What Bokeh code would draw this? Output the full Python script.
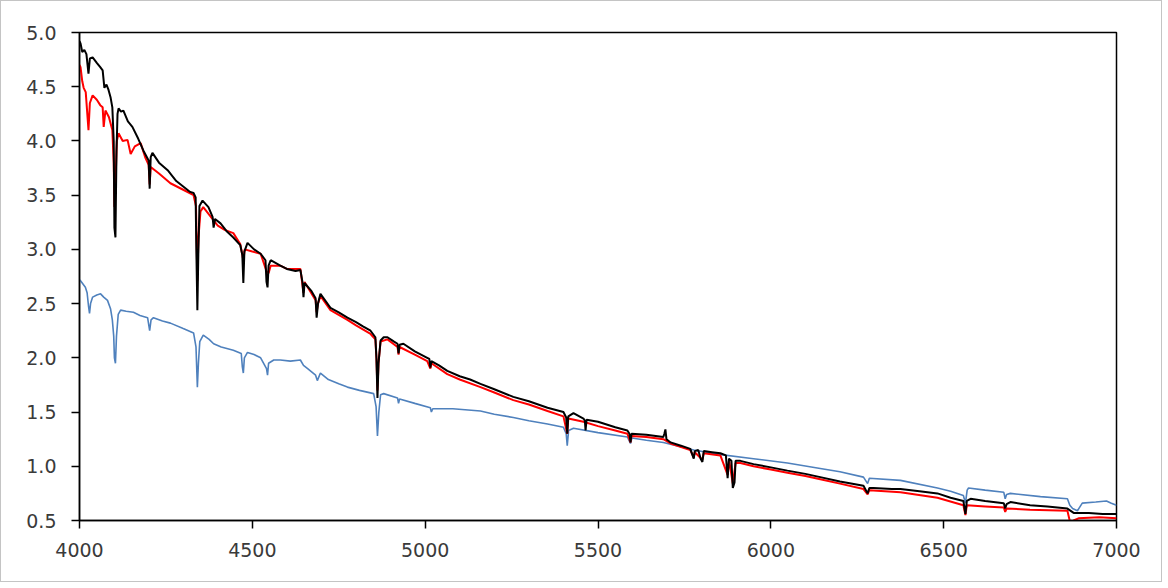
from bokeh.plotting import figure
from bokeh.layouts import column
from bokeh.models import FixedTicker, NumeralTickFormatter, Range1d
from bokeh.embed import file_html
from bokeh.resources import INLINE

# ---- data ----
black_w = [4000, 4003, 4008, 4014, 4020, 4026, 4030, 4038, 4050, 4060, 4067, 4072, 4078, 4084, 4090, 4095,
           4099, 4101, 4104, 4107, 4110, 4113, 4120, 4127, 4140, 4153, 4170, 4185, 4195, 4200, 4203, 4206,
           4211, 4230, 4255, 4280, 4300, 4320, 4330, 4336, 4338, 4341, 4344, 4347, 4356, 4373, 4385, 4388,
           4392, 4408, 4425, 4445, 4465, 4471, 4474, 4477, 4486, 4505, 4524, 4538, 4541, 4544, 4547, 4553,
           4581, 4600, 4625, 4639, 4645, 4648, 4651, 4670, 4683, 4686, 4690, 4697, 4726, 4750, 4775, 4800,
           4820, 4842, 4856, 4859, 4862, 4865, 4871, 4880, 4891, 4910, 4920, 4923, 4926, 4937, 4970, 5006,
           5012, 5015, 5018, 5040, 5064, 5100, 5130, 5160, 5200, 5255, 5300, 5354, 5400, 5408, 5411, 5414,
           5429, 5458, 5462, 5464, 5467, 5500, 5550, 5585, 5591, 5594, 5597, 5640, 5689, 5692, 5695, 5698,
           5710, 5740, 5767, 5777, 5780, 5790, 5797, 5802, 5806, 5830, 5854, 5870, 5875, 5879, 5886, 5890,
           5895, 5898, 5912, 5950, 6000, 6048, 6100, 6143, 6200, 6268, 6280, 6285, 6297, 6350, 6375, 6430,
           6482, 6520, 6557, 6563, 6567, 6578, 6620, 6674, 6678, 6682, 6693, 6750, 6800, 6858, 6876, 6920,
           6960, 7000]
black_f = [4.92, 4.90, 4.82, 4.84, 4.80, 4.62, 4.76, 4.77, 4.72, 4.68, 4.65, 4.49, 4.52, 4.47, 4.40, 4.31,
           4.00, 3.20, 3.11, 3.90, 4.25, 4.30, 4.27, 4.28, 4.18, 4.13, 4.02, 3.91, 3.85, 3.82, 3.56, 3.85,
           3.89, 3.80, 3.73, 3.63, 3.58, 3.53, 3.52, 3.48, 3.00, 2.44, 3.00, 3.40, 3.45, 3.39, 3.30, 3.20,
           3.28, 3.24, 3.17, 3.11, 3.04, 2.95, 2.69, 2.98, 3.06, 3.00, 2.96, 2.90, 2.70, 2.65, 2.85, 2.90,
           2.85, 2.82, 2.80, 2.81, 2.70, 2.56, 2.69, 2.62, 2.55, 2.37, 2.50, 2.59, 2.46, 2.42, 2.37, 2.33,
           2.29, 2.25, 2.19, 2.00, 1.63, 1.95, 2.16, 2.19, 2.19, 2.15, 2.13, 2.04, 2.12, 2.13, 2.06, 2.00,
           1.99, 1.91, 1.97, 1.93, 1.88, 1.83, 1.80, 1.76, 1.71, 1.64, 1.60, 1.54, 1.50, 1.45, 1.30, 1.46,
           1.49, 1.44, 1.42, 1.33, 1.43, 1.41, 1.36, 1.33, 1.30, 1.22, 1.30, 1.29, 1.27, 1.30, 1.34, 1.25,
           1.22, 1.19, 1.16, 1.07, 1.14, 1.15, 1.07, 1.04, 1.14, 1.13, 1.12, 1.10, 0.89, 1.07, 1.05, 0.80,
           0.85, 1.05, 1.05, 1.02, 0.99, 0.96, 0.93, 0.90, 0.86, 0.82, 0.75, 0.80, 0.80, 0.79, 0.79, 0.77,
           0.75, 0.71, 0.68, 0.56, 0.68, 0.70, 0.68, 0.66, 0.61, 0.65, 0.67, 0.64, 0.63, 0.61, 0.57, 0.57,
           0.56, 0.56]

red_w = [4000, 4003, 4008, 4012, 4018, 4026, 4030, 4038, 4050, 4060, 4067, 4070, 4075, 4085, 4095, 4099,
         4101, 4104, 4108, 4113, 4125, 4139, 4148, 4160, 4177, 4190, 4200, 4203, 4206, 4230, 4263, 4300,
         4330, 4337, 4341, 4344, 4350, 4358, 4380, 4400, 4420, 4445, 4465, 4474, 4478, 4500, 4524, 4541,
         4547, 4553, 4581, 4600, 4639, 4648, 4651, 4683, 4686, 4690, 4697, 4726, 4775, 4800, 4842, 4856,
         4859, 4862, 4865, 4871, 4891, 4920, 4923, 4926, 4970, 5006, 5015, 5018, 5064, 5100, 5160, 5200,
         5255, 5300, 5354, 5400, 5411, 5414, 5458, 5500, 5550, 5585, 5594, 5597, 5640, 5689, 5710, 5767,
         5777, 5780, 5802, 5806, 5854, 5875, 5879, 5890, 5898, 5912, 5950, 6000, 6048, 6100, 6143, 6200,
         6268, 6280, 6285, 6375, 6482, 6557, 6563, 6567, 6620, 6674, 6678, 6682, 6750, 6858, 6866, 6876,
         6890, 6950, 7000]
red_f = [4.70, 4.68, 4.55, 4.49, 4.45, 4.10, 4.35, 4.42, 4.38, 4.33, 4.31, 4.13, 4.28, 4.22, 4.10, 3.80,
         3.39, 3.60, 4.00, 4.07, 4.00, 4.01, 3.88, 3.95, 3.98, 3.85, 3.78, 3.60, 3.76, 3.70, 3.61, 3.55,
         3.50, 3.40, 2.71, 3.10, 3.35, 3.39, 3.30, 3.22, 3.18, 3.15, 3.05, 2.90, 3.00, 2.98, 2.96, 2.80,
         2.78, 2.85, 2.85, 2.82, 2.82, 2.60, 2.70, 2.53, 2.42, 2.50, 2.57, 2.44, 2.35, 2.30, 2.22, 2.17,
         2.00, 1.70, 1.95, 2.15, 2.17, 2.10, 2.03, 2.10, 2.03, 1.97, 1.90, 1.95, 1.85, 1.80, 1.73, 1.68,
         1.61, 1.57, 1.51, 1.46, 1.30, 1.44, 1.41, 1.37, 1.33, 1.30, 1.22, 1.28, 1.27, 1.25, 1.21, 1.15,
         1.08, 1.13, 1.06, 1.12, 1.10, 0.92, 1.06, 0.84, 1.03, 1.03, 1.00, 0.97, 0.94, 0.91, 0.88, 0.84,
         0.79, 0.74, 0.78, 0.76, 0.71, 0.64, 0.55, 0.64, 0.63, 0.62, 0.58, 0.61, 0.60, 0.59, 0.48, 0.50,
         0.52, 0.53, 0.52]

blue_w = [4000, 4003, 4010, 4017, 4022, 4026, 4029, 4032, 4038, 4050, 4061, 4070, 4081, 4090, 4095, 4099,
          4101, 4104, 4107, 4112, 4119, 4135, 4156, 4175, 4197, 4203, 4207, 4214, 4240, 4263, 4300, 4330,
          4337, 4341, 4344, 4348, 4358, 4375, 4388, 4410, 4445, 4468, 4471, 4474, 4477, 4486, 4505, 4524,
          4541, 4544, 4547, 4562, 4581, 4610, 4639, 4648, 4660, 4683, 4688, 4697, 4720, 4750, 4775, 4810,
          4851, 4858, 4862, 4866, 4871, 4880, 4920, 4923, 4926, 4970, 5015, 5018, 5022, 5080, 5160, 5200,
          5255, 5300, 5354, 5400, 5408, 5411, 5415, 5429, 5500, 5585, 5594, 5598, 5640, 5689, 5777, 5850,
          5950, 6048, 6143, 6200, 6268, 6280, 6285, 6375, 6482, 6520, 6557, 6563, 6568, 6572, 6620, 6674,
          6678, 6682, 6693, 6780, 6858, 6865, 6873, 6887, 6895, 6901, 6940, 6971, 6985, 7000]
blue_f = [2.72, 2.71, 2.68, 2.65, 2.60, 2.48, 2.41, 2.50, 2.56, 2.58, 2.59, 2.56, 2.53, 2.45, 2.35, 2.20,
          2.00, 1.95, 2.20, 2.40, 2.44, 2.43, 2.42, 2.39, 2.37, 2.25, 2.35, 2.37, 2.34, 2.32, 2.27, 2.23,
          2.10, 1.73, 1.95, 2.15, 2.21, 2.17, 2.13, 2.10, 2.07, 2.04, 1.92, 1.86, 2.00, 2.05, 2.03, 2.00,
          1.90, 1.84, 1.95, 1.98, 1.98, 1.97, 1.98, 1.93, 1.90, 1.84, 1.79, 1.86, 1.80, 1.76, 1.73, 1.70,
          1.67, 1.55, 1.28, 1.50, 1.66, 1.67, 1.63, 1.58, 1.62, 1.58, 1.54, 1.50, 1.53, 1.53, 1.51, 1.48,
          1.45, 1.42, 1.39, 1.36, 1.30, 1.19, 1.33, 1.35, 1.31, 1.27, 1.21, 1.26, 1.24, 1.22, 1.15, 1.11,
          1.07, 1.03, 0.98, 0.95, 0.90, 0.84, 0.89, 0.87, 0.80, 0.77, 0.73, 0.66, 0.78, 0.80, 0.78, 0.76,
          0.70, 0.74, 0.75, 0.72, 0.70, 0.64, 0.61, 0.59, 0.63, 0.66, 0.67, 0.68, 0.66, 0.64]

x_ticks = [4000, 4500, 5000, 5500, 6000, 6500, 7000]
y_ticks = [0.5, 1.0, 1.5, 2.0, 2.5, 3.0, 3.5, 4.0, 4.5, 5.0]

# ---- figure ----
W, H = 1160, 580
p = figure(width=W, height=H, output_backend="svg", toolbar_location=None,
           x_range=Range1d(4000, 7000), y_range=Range1d(0.5, 5.0),
           min_border_left=78, min_border_right=W - 1115, min_border_top=31, min_border_bottom=H - 519)
p.background_fill_color = "white"
p.border_fill_color = "white"
p.outline_line_color = "black"
p.outline_line_width = 1.5
p.xgrid.visible = False
p.ygrid.visible = False

p.line(blue_w, blue_f, line_color="#4f81bd", line_width=1.6)
p.line(red_w, red_f, line_color="#ff0000", line_width=2)
p.line(black_w, black_f, line_color="#000000", line_width=2)

for ax in (p.xaxis[0], p.yaxis[0]):
    ax.axis_line_color = "black"
    ax.axis_line_width = 1.5
    ax.major_tick_line_color = "black"
    ax.major_tick_line_width = 1.5
    ax.major_tick_out = 8
    ax.major_tick_in = 0
    ax.minor_tick_line_color = None
    ax.major_label_text_font = "DejaVu Sans"
    ax.major_label_text_font_size = "19px"
    ax.major_label_text_color = "#3a3a3a"

p.xaxis[0].ticker = FixedTicker(ticks=x_ticks)
p.xaxis[0].formatter = NumeralTickFormatter(format="0")
p.xaxis[0].major_label_standoff = 14
p.yaxis[0].ticker = FixedTicker(ticks=y_ticks)
p.yaxis[0].formatter = NumeralTickFormatter(format="0.0")
p.yaxis[0].major_label_standoff = 15

layout = column(p, styles={"border": "1.5px solid #c4c4c4"})

open("out.html", "w").write(file_html(layout, INLINE))
